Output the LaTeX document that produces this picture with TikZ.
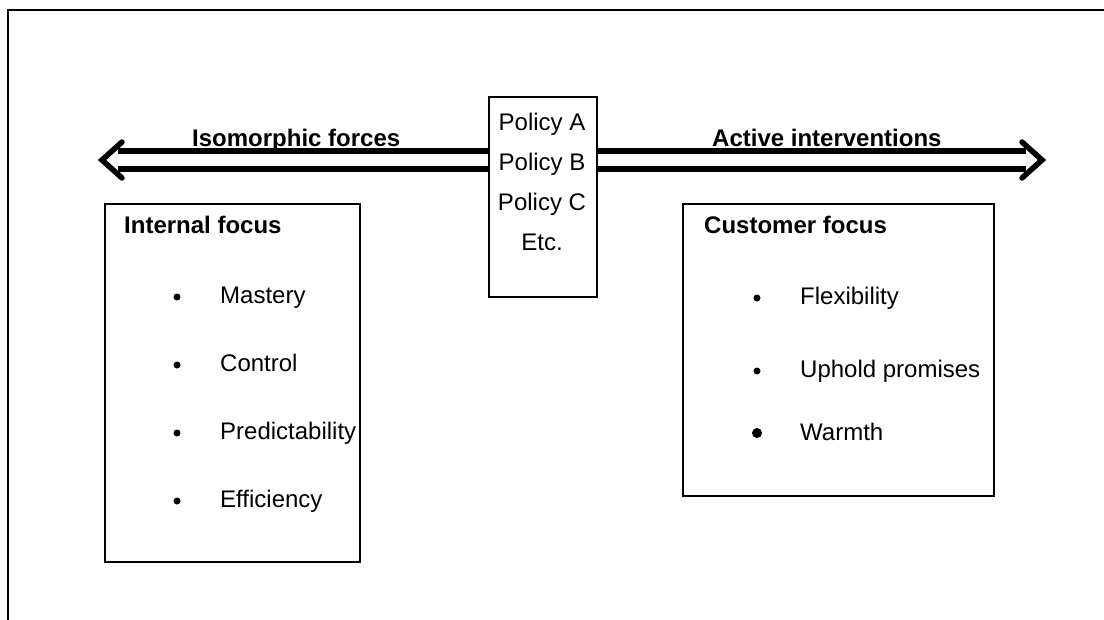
\documentclass[tikz,border=0pt]{standalone}
\usepackage{fontspec}
\setmainfont{Liberation Sans}
\begin{document}
\begin{tikzpicture}[x=1pt,y=-1pt,
  outerline/.style={line width=2pt},
  panel/.style={draw, line width=1.8pt, inner sep=0pt, anchor=north west},
  txt/.style={font=\fontsize{24}{28}\selectfont, inner sep=0pt},
  heading/.style={txt, font=\fontsize{24}{28}\selectfont\bfseries, anchor=base west},
  entry/.style={txt, anchor=base west},
  policyline/.style={txt, anchor=base},
  shaft/.style={line width=5.5pt},
  chevron/.style={line width=5.5pt, line join=miter, line cap=round},
  dot/.style={fill, circle, inner sep=0pt, minimum size=7pt},
  bigdot/.style={dot, minimum size=10pt}]
\useasboundingbox (0,0) rectangle (1104,619);

% outer frame (only top and left edges fall inside the page)
\coordinate (fbl) at (8,640);
\coordinate (ftr) at (1130,10);
\draw[outerline] (fbl) |- (ftr);

% boxes
\node[panel, minimum width=108pt, minimum height=200pt] (policy) at (488,96) {};
\node[panel, minimum width=255pt, minimum height=358pt] (internal) at (104,203) {};
\node[panel, minimum width=311pt, minimum height=292pt] (customer) at (682,203) {};

% policy list
\node[policyline] (pa) at (542,130) {Policy A};
\node[policyline] (pb) at (542,170) {Policy B};
\node[policyline] (pc) at (542,210) {Policy C};
\node[policyline] (pe) at (542,250) {Etc.};

% double arrows
\coordinate (ltip) at (102,160);
\coordinate (rtip) at (1042,160);
\coordinate (lu) at ([yshift=9pt]ltip);
\coordinate (ld) at ([yshift=-9pt]ltip);
\coordinate (ru) at ([yshift=9pt]rtip);
\coordinate (rd) at ([yshift=-9pt]rtip);
\draw[shaft] (lu -| policy.west) -- ([xshift=16pt]lu);
\draw[shaft] (ld -| policy.west) -- ([xshift=16pt]ld);
\draw[chevron] ([shift={(20pt,18pt)}]ltip) -- (ltip) -- ([shift={(20pt,-18pt)}]ltip);
\draw[shaft] (ru -| policy.east) -- ([xshift=-16pt]ru);
\draw[shaft] (rd -| policy.east) -- ([xshift=-16pt]rd);
\draw[chevron] ([shift={(-20pt,18pt)}]rtip) -- (rtip) -- ([shift={(-20pt,-18pt)}]rtip);

\node[heading] (iso) at (192,146) {Isomorphic forces};
\node[heading] (act) at (712,146) {Active interventions};

% internal focus
\node[heading] (ih) at (124,233) {Internal focus};
\node[entry] (i1) at (220,303) {Mastery};
\node[entry] (i2) at (220,371) {Control};
\node[entry] (i3) at (220,439) {Predictability};
\node[entry] (i4) at (220,507) {Efficiency};
\foreach \n in {i1,i2,i3,i4}
  \node[dot] at ([yshift=6pt]177,0 |- \n.base) {};

% customer focus
\node[heading] (ch) at (704,233) {Customer focus};
\node[entry] (c1) at (800,304) {Flexibility};
\node[entry] (c2) at (800,377) {Uphold promises};
\node[entry] (c3) at (800,440) {Warmth};
\node[dot] at ([yshift=6pt]757,0 |- c1.base) {};
\node[dot] at ([yshift=6pt]757,0 |- c2.base) {};
\node[bigdot] at ([yshift=7pt]757,0 |- c3.base) {};
\end{tikzpicture}
\end{document}
